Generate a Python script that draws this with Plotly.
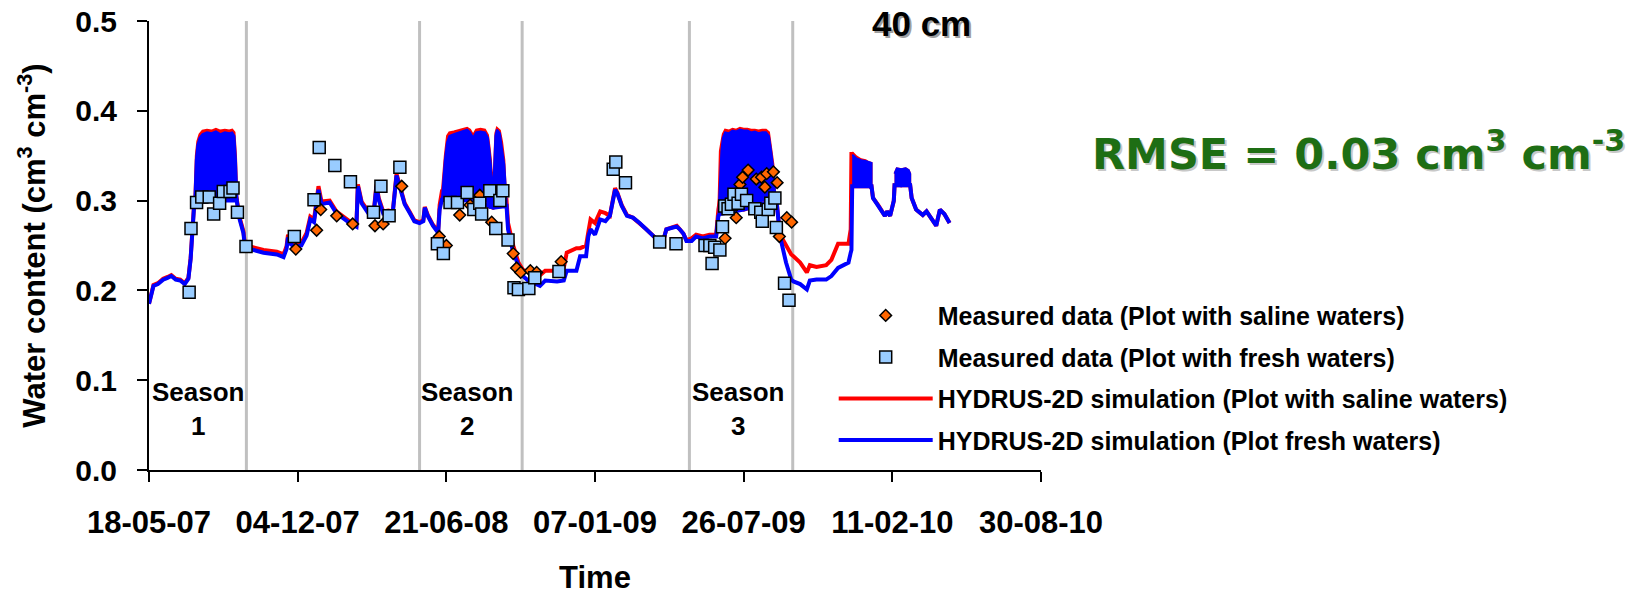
import pandas as pd
import plotly.graph_objects as go

# Time origin of the record; every series below is given in days after it
START = pd.Timestamp("2007-05-18")

# ---------------- HYDRUS-2D simulated water content at 40 cm ----------------
sim_days = [0, 3, 6, 12, 19, 25, 30, 36, 42, 48, 53, 56, 59, 61, 90, 118, 122, 127, 129,
            136, 154, 172, 181, 185, 187, 190, 195, 205, 212, 217, 222, 228, 232, 243, 252,
            262, 270, 279, 281, 286, 295, 302, 306, 309, 315, 322, 328, 333, 338, 344, 351,
            357, 364, 369, 371, 375, 382, 389, 391, 394, 440, 460, 463, 481, 483, 490, 497,
            503, 510, 519, 526, 533, 549, 558, 562, 575, 580, 588, 591, 594, 600, 607, 614,
            620, 627, 630, 636, 643, 651, 660, 669, 683, 692, 696, 705, 710, 714, 719, 723,
            730, 736, 745, 754, 763, 766, 768, 800, 843, 844, 849, 857, 864, 867, 876, 885,
            889, 898, 911, 918, 927, 941, 944, 945, 946, 972, 974, 981, 990, 993, 997, 1002,
            1003, 1024, 1026, 1032, 1041, 1046, 1050, 1053, 1059, 1064, 1070, 1077]

sim_fresh = [0.185, 0.195, 0.205, 0.207, 0.212, 0.214, 0.216, 0.212, 0.211, 0.207, 0.213,
             0.235, 0.268, 0.298, 0.300, 0.300, 0.279, 0.264, 0.249, 0.246, 0.242, 0.240,
             0.237, 0.246, 0.259, 0.252, 0.249, 0.250, 0.261, 0.279, 0.276, 0.312, 0.296,
             0.298, 0.286, 0.280, 0.275, 0.271, 0.316, 0.297, 0.286, 0.283, 0.316, 0.301,
             0.286, 0.288, 0.287, 0.328, 0.312, 0.296, 0.286, 0.277, 0.275, 0.277, 0.292,
             0.283, 0.272, 0.264, 0.290, 0.301, 0.300, 0.292, 0.292, 0.294, 0.268, 0.242,
             0.227, 0.216, 0.211, 0.207, 0.205, 0.211, 0.210, 0.211, 0.222, 0.222, 0.238,
             0.238, 0.260, 0.268, 0.262, 0.279, 0.277, 0.283, 0.312, 0.308, 0.294, 0.283,
             0.281, 0.275, 0.268, 0.257, 0.256, 0.268, 0.270, 0.271, 0.268, 0.263, 0.255,
             0.255, 0.260, 0.258, 0.260, 0.260, 0.283, 0.285, 0.290, 0.300, 0.301, 0.260,
             0.231, 0.212, 0.210, 0.207, 0.201, 0.211, 0.212, 0.212, 0.216, 0.225, 0.231,
             0.242, 0.245, 0.316, 0.316, 0.303, 0.295, 0.283, 0.288, 0.283, 0.300, 0.317,
             0.317, 0.303, 0.290, 0.284, 0.288, 0.283, 0.281, 0.272, 0.290, 0.285, 0.275]

sim_saline = [0.185, 0.195, 0.206, 0.208, 0.213, 0.215, 0.217, 0.213, 0.212, 0.208, 0.214,
              0.236, 0.270, 0.300, 0.302, 0.302, 0.281, 0.266, 0.252, 0.249, 0.245, 0.243,
              0.240, 0.249, 0.262, 0.255, 0.252, 0.253, 0.264, 0.282, 0.279, 0.316, 0.299,
              0.300, 0.288, 0.282, 0.277, 0.273, 0.318, 0.299, 0.288, 0.285, 0.318, 0.303,
              0.288, 0.289, 0.288, 0.330, 0.313, 0.297, 0.287, 0.278, 0.276, 0.278, 0.293,
              0.284, 0.273, 0.266, 0.295, 0.310, 0.300, 0.292, 0.292, 0.300, 0.275, 0.250,
              0.231, 0.223, 0.220, 0.217, 0.217, 0.222, 0.222, 0.225, 0.242, 0.247, 0.247,
              0.250, 0.265, 0.279, 0.275, 0.288, 0.286, 0.283, 0.314, 0.309, 0.295, 0.284,
              0.281, 0.275, 0.268, 0.257, 0.256, 0.268, 0.270, 0.272, 0.268, 0.263, 0.256,
              0.258, 0.262, 0.260, 0.262, 0.262, 0.290, 0.300, 0.290, 0.300, 0.301, 0.262,
              0.250, 0.240, 0.238, 0.231, 0.220, 0.228, 0.226, 0.228, 0.234, 0.252, 0.252,
              0.268, 0.354, 0.316, 0.316, 0.303, 0.295, 0.283, 0.288, 0.283, 0.300, 0.317,
              0.317, 0.303, 0.290, 0.284, 0.288, 0.283, 0.281, 0.272, 0.290, 0.285, 0.275]

# Daily irrigation pulses: envelope (upper / lower) of the simulated oscillation
band_days = [
    [61, 63, 65, 68, 72, 78, 84, 90, 96, 102, 108, 112, 115, 117, 119],
    [394, 396, 398, 401, 404, 410, 418, 424, 428, 432, 436, 440, 446, 452, 456, 458, 460,
     462, 464, 466, 468, 472, 475, 478, 481],
    [766, 768, 770, 772, 775, 780, 785, 790, 795, 800, 805, 810, 815, 820, 825, 830, 834,
     837, 840, 843],
    [946, 948, 952, 958, 964, 968, 972],
    [1003, 1006, 1012, 1018, 1022, 1024],
]
band_fresh_top = [
    [0.300, 0.345, 0.362, 0.370, 0.374, 0.376, 0.375, 0.377, 0.374, 0.376, 0.375, 0.376,
     0.372, 0.345, 0.300],
    [0.301, 0.325, 0.345, 0.365, 0.372, 0.374, 0.376, 0.378, 0.379, 0.376, 0.370, 0.376,
     0.377, 0.376, 0.370, 0.356, 0.340, 0.310, 0.330, 0.372, 0.379, 0.375, 0.360, 0.340,
     0.300],
    [0.283, 0.330, 0.355, 0.370, 0.376, 0.375, 0.378, 0.377, 0.379, 0.378, 0.378, 0.376,
     0.377, 0.375, 0.376, 0.376, 0.372, 0.355, 0.335, 0.300],
    [0.351, 0.350, 0.347, 0.345, 0.344, 0.343, 0.342],
    [0.330, 0.336, 0.335, 0.336, 0.334, 0.330],
]
band_saline_top = [
    [0.300, 0.350, 0.366, 0.374, 0.378, 0.379, 0.378, 0.380, 0.378, 0.379, 0.378, 0.379,
     0.376, 0.350, 0.300],
    [0.310, 0.335, 0.350, 0.372, 0.376, 0.377, 0.379, 0.380, 0.381, 0.379, 0.373, 0.379,
     0.380, 0.379, 0.373, 0.360, 0.345, 0.315, 0.335, 0.375, 0.381, 0.378, 0.365, 0.345,
     0.300],
    [0.290, 0.355, 0.365, 0.374, 0.379, 0.378, 0.380, 0.379, 0.381, 0.380, 0.380, 0.379,
     0.379, 0.378, 0.379, 0.379, 0.376, 0.360, 0.340, 0.300],
    [0.354, 0.352, 0.349, 0.346, 0.345, 0.343, 0.342],
    [0.330, 0.336, 0.335, 0.336, 0.334, 0.330],
]
band_bottom = [
    [0.298, 0.300, 0.300, 0.300, 0.300, 0.300, 0.300, 0.300, 0.300, 0.300, 0.300, 0.300,
     0.300, 0.300, 0.300],
    [0.301, 0.300, 0.300, 0.300, 0.300, 0.300, 0.300, 0.300, 0.300, 0.300, 0.300, 0.300,
     0.300, 0.300, 0.298, 0.292, 0.292, 0.292, 0.295, 0.300, 0.300, 0.300, 0.300, 0.298,
     0.294],
    [0.283, 0.285, 0.285, 0.285, 0.285, 0.288, 0.290, 0.290, 0.292, 0.295, 0.296, 0.296,
     0.298, 0.298, 0.300, 0.300, 0.300, 0.300, 0.300, 0.300],
    [0.316, 0.316, 0.318, 0.318, 0.318, 0.317, 0.312],
    [0.317, 0.317, 0.316, 0.317, 0.317, 0.317],
]

# ---------------- Measured water content ----------------
fresh_days = [54, 56.5, 64, 71, 81, 87, 95, 100, 109, 113, 119, 130.5, 195.5, 222, 229, 250,
              271, 302, 312, 323, 337.5, 388, 396, 405, 415, 428, 437, 445, 447.5, 458.5,
              466.5, 472, 476, 483, 491, 497, 511, 519, 551.5, 624.5, 628, 641, 687, 709,
              748, 754.5, 757.5, 761, 768, 771.5, 774.5, 779, 783.5, 787, 792.5, 797, 804,
              815, 823, 825, 833, 836.5, 842, 844, 855, 861]
fresh_theta = [0.198, 0.269, 0.298, 0.304, 0.304, 0.285, 0.297, 0.310, 0.310, 0.314, 0.287,
               0.249, 0.260, 0.301, 0.359, 0.339, 0.321, 0.287, 0.316, 0.283, 0.337, 0.252,
               0.241, 0.298, 0.298, 0.309, 0.290, 0.297, 0.285, 0.311, 0.269, 0.300, 0.311,
               0.256, 0.203, 0.201, 0.202, 0.214, 0.221, 0.335, 0.343, 0.320, 0.254, 0.252,
               0.250, 0.250, 0.230, 0.248, 0.245, 0.271, 0.294, 0.291, 0.296, 0.307, 0.297,
               0.307, 0.300, 0.291, 0.287, 0.277, 0.290, 0.297, 0.303, 0.270, 0.208, 0.189]

saline_days = [197.5, 225.5, 231, 252.5, 274, 304, 315, 340, 390.5, 400, 418, 432, 445, 461,
               490, 494.5, 500, 513, 521.5, 554.5, 775, 790, 795, 798.5, 806, 817, 824,
               828.5, 831, 840, 845, 848, 858, 864.5]
saline_theta = [0.246, 0.267, 0.290, 0.283, 0.274, 0.272, 0.274, 0.316, 0.260, 0.250, 0.284,
                0.295, 0.306, 0.276, 0.241, 0.225, 0.220, 0.222, 0.220, 0.232, 0.258, 0.281,
                0.318, 0.326, 0.334, 0.324, 0.326, 0.315, 0.330, 0.332, 0.320, 0.260, 0.281,
                0.276]

# Irrigation season limits and labels
season_limits = ["2007-09-26", "2008-05-16", "2008-10-01", "2009-05-14", "2009-09-30"]
season_label_dates = ["2007-07-23", "2008-07-19", "2009-07-19"]
season_labels = ["Season<br>1", "Season<br>2", "Season<br>3"]

x_range = ["2007-05-18", "2010-08-30"]
TICK_STEP_DAYS = 200

FONT = "Liberation Sans"
RED = "#ff0000"
BLUE = "#0000ff"


def to_dates(days):
    return START + pd.to_timedelta(days, unit="D")


def band_trace(days, top, bottom, color, group):
    xs = list(to_dates(days)) + list(to_dates(days[::-1]))
    ys = list(top) + list(bottom[::-1])
    return go.Scatter(x=xs, y=ys, mode="lines", fill="toself", fillcolor=color,
                      line=dict(color=color, width=2), showlegend=False,
                      legendgroup=group, hoverinfo="skip")


fig = go.Figure()

# Saline-plot simulation underneath, fresh-water simulation above it
fig.add_trace(go.Scatter(x=to_dates(sim_days), y=sim_saline, mode="lines",
                         line=dict(color=RED, width=4), legendgroup="sim_saline",
                         name="HYDRUS-2D simulation (Plot with saline waters)",
                         legendrank=3))
for d, top, bot in zip(band_days, band_saline_top, band_bottom):
    fig.add_trace(band_trace(d, top, bot, RED, "sim_saline"))

fig.add_trace(go.Scatter(x=to_dates(sim_days), y=sim_fresh, mode="lines",
                         line=dict(color=BLUE, width=4), legendgroup="sim_fresh",
                         name="HYDRUS-2D simulation (Plot fresh waters)",
                         legendrank=4))
for d, top, bot in zip(band_days, band_fresh_top, band_bottom):
    fig.add_trace(band_trace(d, top, bot, BLUE, "sim_fresh"))

fig.add_trace(go.Scatter(x=to_dates(saline_days), y=saline_theta, mode="markers",
                         marker=dict(symbol="diamond", size=9, color="#ff6600",
                                     line=dict(color="#000000", width=1.5)),
                         legendgroup="obs_saline",
                         name="Measured data (Plot with saline waters)",
                         legendrank=1))
fig.add_trace(go.Scatter(x=to_dates(fresh_days), y=fresh_theta, mode="markers",
                         marker=dict(symbol="square", size=12, color="#99ccff",
                                     line=dict(color="#000000", width=1.5)),
                         legendgroup="obs_fresh",
                         name="Measured data (Plot with fresh waters)",
                         legendrank=2))

shapes = [dict(type="line", xref="x", yref="y", x0=d, x1=d, y0=0, y1=0.5,
               line=dict(color="#c0c0c0", width=3), layer="below")
          for d in season_limits]

annotations = []
for d, txt in zip(season_label_dates, season_labels):
    annotations.append(dict(x=d, y=0.068, xref="x", yref="y", text=txt, showarrow=False,
                            font=dict(family=FONT, size=26, color="black", weight="bold"),
                            align="center", xanchor="center", yanchor="middle"))

# Depth label with soft shadow
for shift, col in [((2, -2), "#a0a0a0"), ((0, 0), "black")]:
    annotations.append(dict(x=0.8655, y=0.9955, xref="paper", yref="paper", text="40 cm",
                            showarrow=False, xshift=shift[0], yshift=shift[1],
                            font=dict(family=FONT, size=35, color=col, weight="bold"),
                            xanchor="center", yanchor="middle"))

# Goodness-of-fit note
for shift, col in [((2, -2), "#c8c8c8"), ((0, 0), "#1e6e14")]:
    annotations.append(dict(x=1.3554, y=0.71, xref="paper", yref="paper",
                            text="RMSE = 0.03 cm<sup>3</sup> cm<sup>-3</sup>",
                            showarrow=False, xshift=shift[0], yshift=shift[1],
                            font=dict(family="DejaVu Sans", size=43, color=col,
                                      weight="bold"),
                            xanchor="center", yanchor="middle"))

fig.update_layout(
    width=1649, height=595,
    margin=dict(l=149, r=608, t=21, b=125, autoexpand=False),
    plot_bgcolor="white", paper_bgcolor="white",
    font=dict(family=FONT, size=26, color="black", weight="bold"),
    shapes=shapes, annotations=annotations,
    legend=dict(x=0.7676, y=0.395, xanchor="left", yanchor="top",
                font=dict(family=FONT, size=25, color="black", weight="bold"),
                itemwidth=94, tracegroupgap=6, bgcolor="rgba(0,0,0,0)"),
    xaxis=dict(type="date", range=x_range, tick0=x_range[0],
               dtick=TICK_STEP_DAYS * 86400000, tickformat="%d-%m-%y",
               showgrid=False, zeroline=False, showline=True, linecolor="black",
               linewidth=2, ticks="outside", ticklen=10, tickwidth=2, tickcolor="black",
               ticklabelstandoff=14,
               tickfont=dict(family=FONT, size=31, color="black", weight="bold"),
               title=dict(text="Time", standoff=34,
                          font=dict(family=FONT, size=31, color="black", weight="bold"))),
    yaxis=dict(range=[0, 0.5], dtick=0.1, tick0=0, tickformat=".1f",
               showgrid=False, zeroline=False, showline=True, linecolor="black",
               linewidth=2, ticks="outside", ticklen=10, tickwidth=2, tickcolor="black",
               ticklabelstandoff=14,
               tickfont=dict(family=FONT, size=30, color="black", weight="bold"),
               title=dict(text="Water content (cm<sup>3</sup> cm<sup>-3</sup>)",
                          standoff=20,
                          font=dict(family=FONT, size=31, color="black", weight="bold"))),
)

fig.write_html("out.html")
